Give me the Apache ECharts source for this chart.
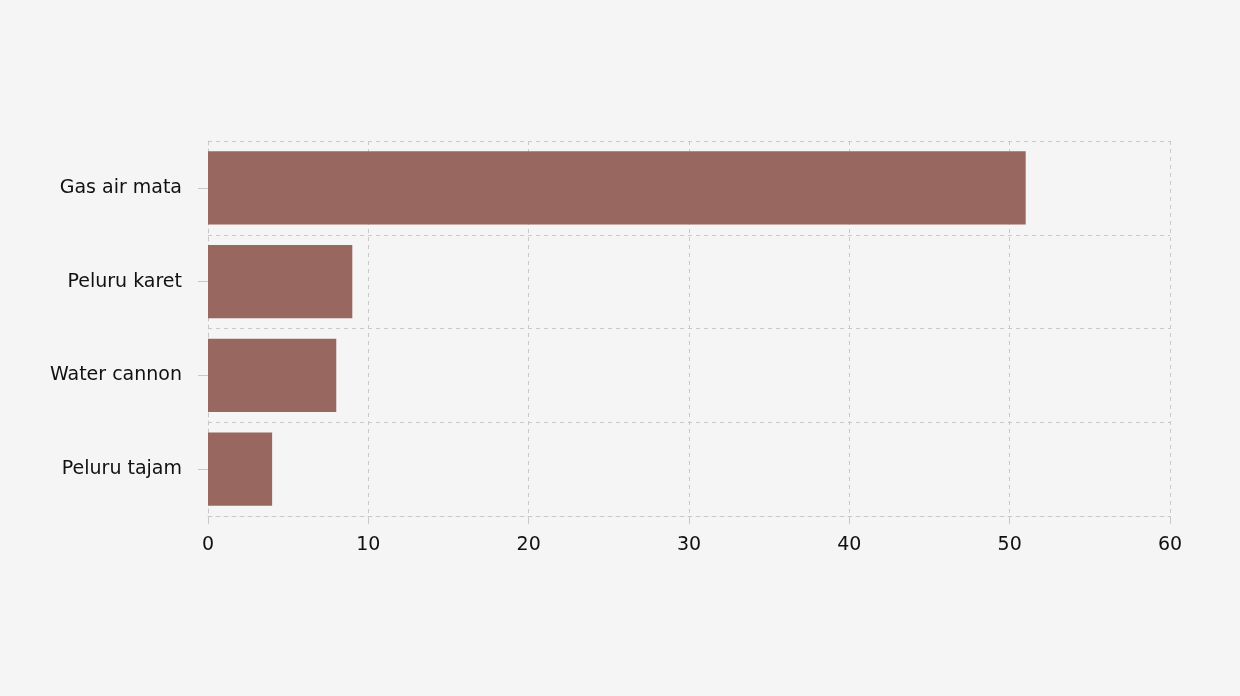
<!DOCTYPE html>
<html><head><meta charset="utf-8">
<script src="https://cdn.jsdelivr.net/npm/echarts@6/dist/echarts.min.js"></script>
<style>html,body{margin:0;background:#f5f5f5}#c{width:1240px;height:696px}</style>
</head><body><div id="c"></div>
<script>
const categories = ["Gas air mata", "Peluru karet", "Water cannon", "Peluru tajam"];
const values = [51, 9, 8, 4];
const chart = echarts.init(document.getElementById('c'));
const dash = {show:true, lineStyle:{color:'#c8c8c8', type:[4,4], width:1}};
chart.setOption({
  backgroundColor:'#f5f5f5',
  animation:false,
  grid:{left:208, right:70, top:141, bottom:180},
  xAxis:{type:'value', min:0, max:60, interval:10,
    axisLine:dash, splitLine:dash,
    axisTick:{show:true, length:8, lineStyle:{color:'#c8c8c8'}},
    axisLabel:{color:'#111', fontSize:19, margin:20, fontFamily:'DejaVu Sans'}},
  yAxis:{type:'category', inverse:true, data:categories,
    axisLine:dash, splitLine:dash,
    axisTick:{show:true, length:10, alignWithLabel:true, lineStyle:{color:'#c8c8c8'}},
    axisLabel:{color:'#111', fontSize:19, margin:26, fontFamily:'DejaVu Sans'}},
  series:[{type:'bar', data:values, barCategoryGap:'22%', itemStyle:{color:'#98675f'}}]
});
</script></body></html>
